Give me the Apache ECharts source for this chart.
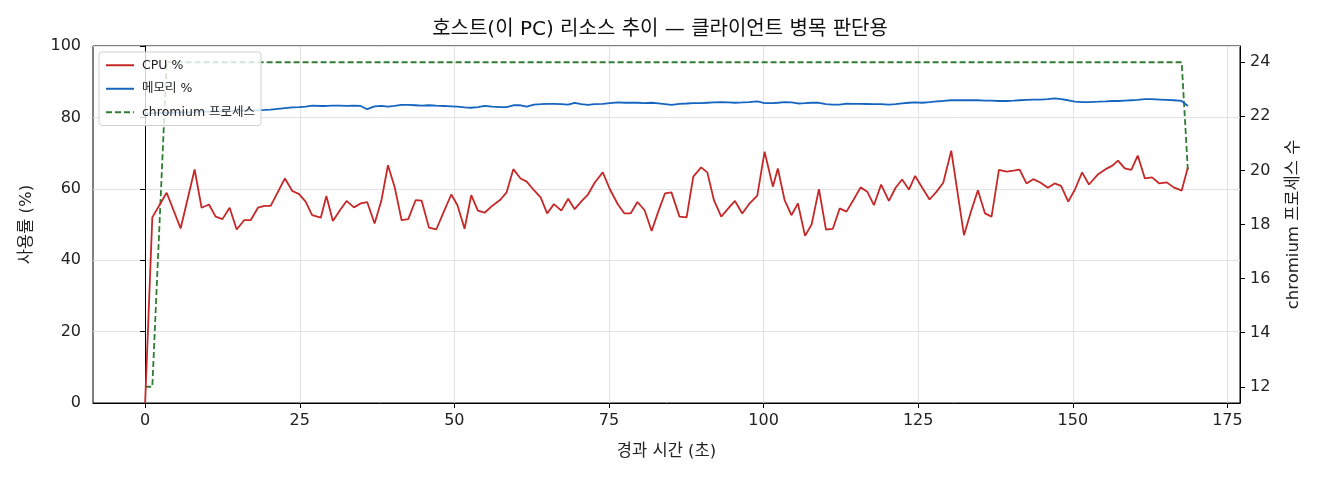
<!DOCTYPE html>
<html>
<head>
<meta charset="utf-8">
<script src="https://cdn.jsdelivr.net/npm/echarts@6/dist/echarts.min.js"></script>
<style>
  html, body { margin: 0; padding: 0; background: #fff; }
  #chart { width: 1320px; height: 480px; }
</style>
</head>
<body>
<div id="chart"></div>
<script>
const FONT = '"DejaVu Sans", "Noto Sans CJK KR", sans-serif';

// elapsed seconds of each sample
const times = [
  0, 1.16, 3.48, 5.74, 8.0, 9.13, 10.32, 11.4, 12.5, 13.66,
  14.8, 16.0, 17.06, 18.24, 19.3, 20.3, 22.6, 23.8, 24.9, 25.95,
  27.0, 28.4, 29.3, 30.36, 31.5, 32.57, 33.76, 34.84, 35.9, 37.1,
  38.2, 39.26, 40.33, 41.47, 42.54, 43.73, 44.7, 45.9, 47.07, 48.3,
  49.5, 50.5, 51.65, 52.73, 53.8, 54.9, 56.1, 57.47, 58.45, 59.53,
  60.7, 61.7, 62.87, 63.95, 65.0, 66.1, 67.3, 68.4, 69.45, 70.5,
  71.6, 72.68, 74.0, 75.16, 76.45, 77.5, 78.5, 79.6, 80.76, 81.9,
  82.97, 84.05, 85.1, 86.4, 87.55, 88.63, 89.9, 90.9, 91.97, 93.15,
  94.29, 95.37, 96.55, 97.63, 98.98, 100.16, 101.5, 102.3, 103.4, 104.5,
  105.55, 106.7, 107.76, 108.95, 110.08, 111.2, 112.3, 113.4, 114.5, 115.68,
  116.76, 117.84, 119.0, 120.26, 121.34, 122.4, 123.5, 124.5, 125.65, 126.84,
  127.97, 129.05, 130.34, 132.4, 133.47, 134.65, 135.8, 136.86, 138.05, 139.3,
  140.4, 141.4, 142.5, 143.6, 144.8, 145.97, 147.05, 148.1, 149.26, 150.34,
  151.5, 152.6, 154.1, 155.3, 156.4, 157.3, 158.4, 159.45, 160.5, 161.65,
  162.8, 164.0, 165.2, 166.3, 167.6, 168.6
];

const cpuPct = [
  0, 52.0, 58.9, 48.9, 65.4, 54.7, 55.6, 52.2, 51.5, 54.7,
  48.6, 51.2, 51.2, 54.7, 55.2, 55.2, 62.9, 59.4, 58.5, 56.4,
  52.6, 51.9, 58.0, 51.0, 54.0, 56.6, 54.8, 55.9, 56.3, 50.3,
  56.7, 66.6, 60.6, 51.2, 51.5, 56.8, 56.7, 49.1, 48.6, 53.6,
  58.4, 55.4, 48.8, 58.2, 53.9, 53.3, 55.2, 57.0, 59.0, 65.5,
  62.9, 62.0, 59.6, 57.6, 53.1, 55.7, 53.9, 57.2, 54.3, 56.4,
  58.4, 61.7, 64.6, 59.8, 55.6, 53.1, 53.1, 56.3, 54.0, 48.2,
  53.6, 58.7, 59.0, 52.2, 52.0, 63.4, 66.0, 64.6, 56.8, 52.2,
  54.5, 56.6, 53.1, 55.7, 58.1, 70.4, 60.6, 65.7, 56.8, 52.6,
  55.9, 46.8, 50.0, 59.9, 48.6, 48.8, 54.5, 53.6, 56.8, 60.4,
  59.2, 55.4, 61.2, 56.6, 60.3, 62.6, 59.8, 63.6, 60.3, 57.0,
  59.2, 61.7, 70.7, 47.0, 53.3, 59.6, 53.1, 52.2, 65.3, 64.8,
  65.1, 65.4, 61.5, 62.7, 61.7, 60.3, 61.5, 60.8, 56.4, 59.8,
  64.6, 61.2, 64.1, 65.5, 66.5, 67.9, 65.7, 65.3, 69.3, 62.9,
  63.2, 61.5, 61.8, 60.4, 59.5, 66.0
];

const memPct = [
  81.0, 81.2, 81.3, 81.4, 81.5, 81.6, 81.6, 81.7, 81.7, 81.8,
  81.8, 81.9, 81.9, 82.0, 82.1, 82.2, 82.6, 82.8, 82.9, 83.0,
  83.3, 83.2, 83.2, 83.3, 83.3, 83.2, 83.3, 83.2, 82.3, 83.1,
  83.2, 83.0, 83.2, 83.5, 83.5, 83.4, 83.3, 83.4, 83.3, 83.2,
  83.1, 83.0, 82.8, 82.7, 82.9, 83.2, 83.0, 82.9, 82.9, 83.4,
  83.4, 83.0, 83.6, 83.7, 83.8, 83.8, 83.7, 83.6, 84.1, 83.7,
  83.5, 83.7, 83.8, 84.0, 84.2, 84.1, 84.1, 84.1, 84.0, 84.1,
  83.9, 83.7, 83.5, 83.8, 83.9, 84.0, 84.0, 84.1, 84.2, 84.3,
  84.2, 84.1, 84.2, 84.3, 84.5, 84.0, 84.0, 84.1, 84.3, 84.2,
  83.9, 84.0, 84.1, 84.1, 83.7, 83.6, 83.6, 83.85, 83.8, 83.8,
  83.75, 83.7, 83.7, 83.6, 83.7, 83.9, 84.1, 84.2, 84.1, 84.3,
  84.5, 84.6, 84.8, 84.8, 84.8, 84.8, 84.7, 84.7, 84.6, 84.6,
  84.7, 84.8, 84.9, 85.0, 85.0, 85.1, 85.3, 85.1, 84.8, 84.4,
  84.3, 84.3, 84.4, 84.5, 84.6, 84.6, 84.7, 84.8, 84.9, 85.1,
  85.1, 85.0, 84.9, 84.8, 84.6, 83.2
];

const chromiumCount = [
  12, 12, 24, 24, 24, 24, 24, 24, 24, 24,
  24, 24, 24, 24, 24, 24, 24, 24, 24, 24,
  24, 24, 24, 24, 24, 24, 24, 24, 24, 24,
  24, 24, 24, 24, 24, 24, 24, 24, 24, 24,
  24, 24, 24, 24, 24, 24, 24, 24, 24, 24,
  24, 24, 24, 24, 24, 24, 24, 24, 24, 24,
  24, 24, 24, 24, 24, 24, 24, 24, 24, 24,
  24, 24, 24, 24, 24, 24, 24, 24, 24, 24,
  24, 24, 24, 24, 24, 24, 24, 24, 24, 24,
  24, 24, 24, 24, 24, 24, 24, 24, 24, 24,
  24, 24, 24, 24, 24, 24, 24, 24, 24, 24,
  24, 24, 24, 24, 24, 24, 24, 24, 24, 24,
  24, 24, 24, 24, 24, 24, 24, 24, 24, 24,
  24, 24, 24, 24, 24, 24, 24, 24, 24, 24,
  24, 24, 24, 24, 24, 20
];

const xTicks = [0, 25, 50, 75, 100, 125, 150, 175];
const countTicks = [12, 14, 16, 18, 20, 22, 24];

const chart = echarts.init(document.getElementById("chart"));

const pairs = (ys) => times.map((t, i) => [t, ys[i]]);

const tickLabel = { color: "#222", fontSize: 16, fontFamily: FONT };
const nameStyle = { fontFamily: FONT, fontSize: 16.5, color: "#222" };
const axisLine = { show: true, lineStyle: { color: "#000", width: 1 } };
const axisTick = { show: true, length: 5, inside: false, lineStyle: { color: "#000" } };
const gridLine = { show: true, lineStyle: { color: "#e2e2e2", width: 1 } };

chart.setOption({
  animation: false,
  backgroundColor: "#fff",
  title: {
    text: "호스트(이 PC) 리소스 추이 — 클라이언트 병목 판단용",
    left: "center",
    top: 15,
    textStyle: { fontFamily: FONT, fontSize: 20, fontWeight: "normal", color: "#111" },
  },
  grid: {
    left: 93, right: 80, top: 46, bottom: 77,
    show: true, borderColor: "#000", borderWidth: 1, backgroundColor: "transparent",
  },
  legend: {
    orient: "vertical",
    left: 99, top: 52,
    itemWidth: 28, itemHeight: 12, itemGap: 11,
    padding: [7, 6, 7, 6],
    backgroundColor: "rgba(255,255,255,0.8)",
    borderColor: "#d0d0d0", borderWidth: 1, borderRadius: 3,
    itemStyle: { opacity: 0 },
    textStyle: { fontFamily: FONT, fontSize: 12.5, color: "#222", padding: [0, 0, 0, 3] },
    data: ["CPU %", "메모리 %", "chromium 프로세스"],
  },
  xAxis: {
    type: "value",
    min: -8.43, max: 177.03,
    name: "경과 시간 (초)",
    nameLocation: "middle",
    nameGap: 40,
    nameTextStyle: nameStyle,
    axisLine, axisTick: { ...axisTick, customValues: xTicks },
    axisLabel: { ...tickLabel, margin: 10, customValues: xTicks },
    splitLine: gridLine,
  },
  yAxis: [
    {
      type: "value",
      min: 0, max: 100, interval: 20,
      name: "사용률 (%)",
      nameLocation: "middle",
      nameGap: 58,
      nameRotate: 90,
      nameTextStyle: nameStyle,
      axisLine, axisTick,
      axisLabel: { ...tickLabel, margin: 12 },
      splitLine: gridLine,
    },
    {
      type: "value",
      position: "right",
      min: 11.4, max: 24.6,
      name: "chromium 프로세스 수",
      nameLocation: "middle",
      nameGap: 45,
      nameRotate: 90,
      nameTextStyle: nameStyle,
      axisLine, axisTick: { ...axisTick, customValues: countTicks },
      axisLabel: { ...tickLabel, margin: 10, customValues: countTicks },
      splitLine: { show: false },
    },
  ],
  series: [
    {
      name: "CPU %", type: "line", yAxisIndex: 0,
      data: pairs(cpuPct), showSymbol: false, symbol: "none",
      lineStyle: { color: "#c62828", width: 1.8 }, itemStyle: { color: "#c62828" },
      z: 3,
    },
    {
      name: "메모리 %", type: "line", yAxisIndex: 0,
      data: pairs(memPct), showSymbol: false, symbol: "none",
      lineStyle: { color: "#1565c0", width: 1.8 }, itemStyle: { color: "#1565c0" },
      z: 3,
    },
    {
      name: "chromium 프로세스", type: "line", yAxisIndex: 1,
      data: pairs(chromiumCount), showSymbol: false, symbol: "none",
      lineStyle: { color: "#2e7d32", width: 1.8, type: [6, 3] }, itemStyle: { color: "#2e7d32" },
      z: 2,
    },
  ],
});

window.addEventListener("resize", () => chart.resize());
</script>
</body>
</html>
